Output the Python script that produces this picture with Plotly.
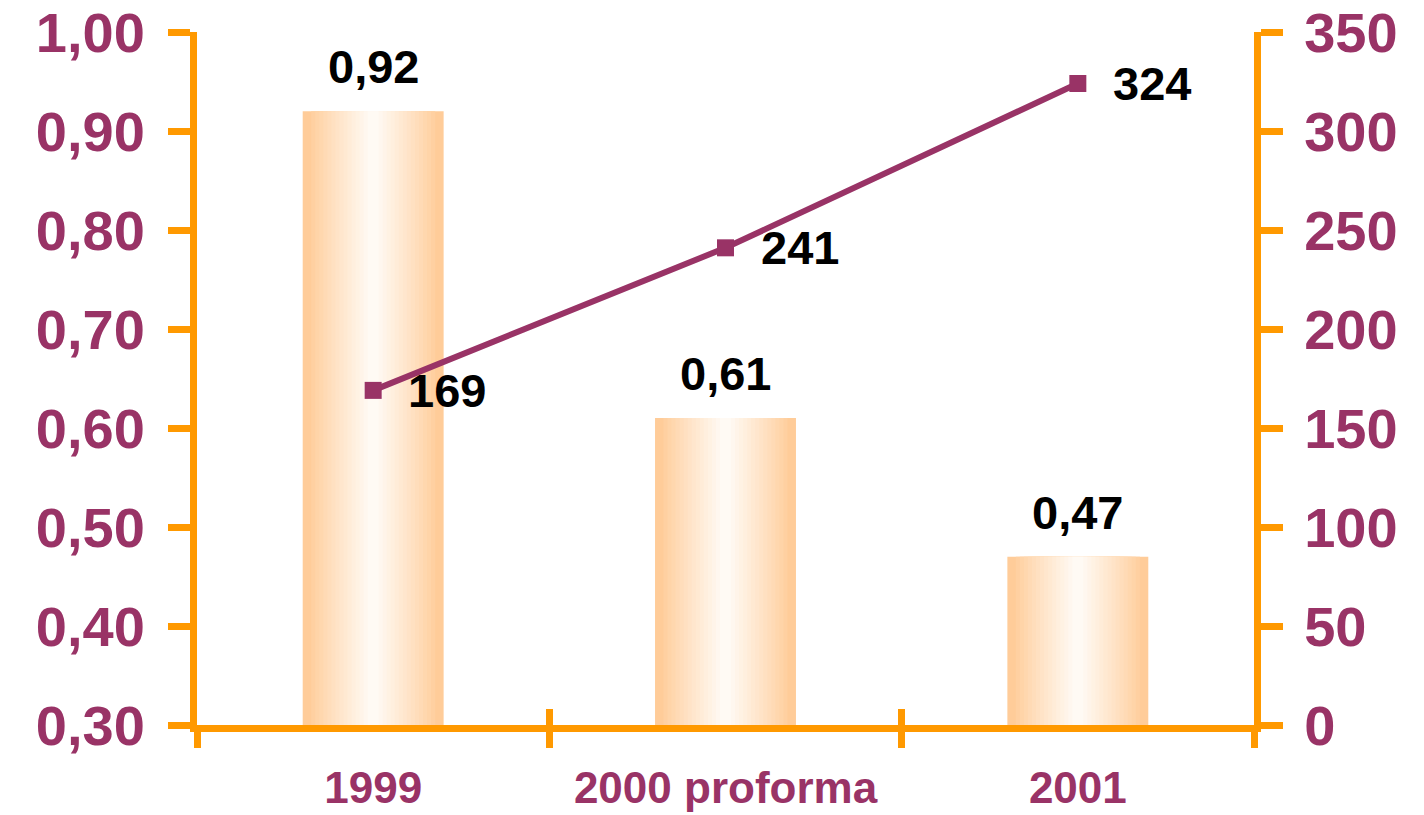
import plotly.graph_objects as go

# Data
categories = ["1999", "2000 proforma", "2001"]
ratio_values = [0.92, 0.61, 0.47]          # bars, left axis
ratio_labels = ["0,92", "0,61", "0,47"]
count_values = [169, 241, 324]             # line, right axis
count_labels = ["169", "241", "324"]

left_ticks = [0.30, 0.40, 0.50, 0.60, 0.70, 0.80, 0.90, 1.00]
right_ticks = [0, 50, 100, 150, 200, 250, 300, 350]

PURPLE = "#993366"
ORANGE = "#FF9900"
FONT = "Liberation Sans, Arial, sans-serif"

fig = go.Figure()

# Bars with a horizontal light-centre gradient: overlaid layers of shrinking width
edge = (255, 204, 153)
centre = (255, 250, 244)
n_layers = 16
full_w = 0.40
for i in range(n_layers):
    t = (i / (n_layers - 1)) ** 0.9
    col = tuple(round(edge[k] + (centre[k] - edge[k]) * t) for k in range(3))
    if i == 0:
        w = full_w
    else:
        w = full_w * (1 - 0.12 - 0.86 * (i - 1) / (n_layers - 1))
    fig.add_trace(go.Bar(
        x=categories, y=[v - 0.30 for v in ratio_values], base=0.30,
        width=w, marker=dict(color="rgb(%d,%d,%d)" % col, line=dict(width=0)),
        hoverinfo="skip", showlegend=False, xaxis="x", yaxis="y",
    ))

# Line on the right axis
fig.add_trace(go.Scatter(
    x=categories, y=count_values, mode="lines+markers",
    line=dict(color=PURPLE, width=6),
    marker=dict(symbol="square", size=17, color=PURPLE),
    showlegend=False, xaxis="x2", yaxis="y2",
))

label_font = dict(family=FONT, size=47, color="black", weight="bold")
annotations = []
for idx, (v, lab) in enumerate(zip(ratio_values, ratio_labels)):
    annotations.append(dict(
        x=idx, y=v, xref="x", yref="y", text=lab, showarrow=False,
        yanchor="bottom", yshift=16, font=label_font,
    ))
for idx, (v, lab) in enumerate(zip(count_values, count_labels)):
    annotations.append(dict(
        x=idx, y=v, xref="x2", yref="y2", text=lab, showarrow=False,
        xanchor="left", xshift=33, yshift=0, font=label_font,
    ))

axis_common = dict(showgrid=False, zeroline=False, tickcolor=ORANGE,
                   tickwidth=7, automargin=False)
tickfont_big = dict(family=FONT, size=56, color=PURPLE, weight="bold")

fig.update_layout(
    width=1424, height=815,
    margin=dict(l=197, r=170, t=32, b=90),
    paper_bgcolor="white", plot_bgcolor="white",
    barmode="overlay",
    separators=",.",
    showlegend=False,
    annotations=annotations,
    xaxis=dict(
        type="category", categoryarray=categories, range=[-0.5, 2.5],
        showline=True, linecolor=ORANGE, linewidth=7,
        ticks="outside", ticklen=16, tickson="boundaries",
        tickfont=dict(family=FONT, size=44, color=PURPLE, weight="bold"),
        ticklabelstandoff=18, ticklabeloverflow="allow", **axis_common,
    ),
    xaxis2=dict(
        type="category", categoryarray=categories, range=[-0.5, 2.5],
        overlaying="x", anchor="y", showline=False,
        ticks="inside", ticklen=16, tickson="boundaries",
        showticklabels=False, **axis_common,
    ),
    yaxis=dict(
        range=[0.30, 1.00], tickvals=left_ticks, tickformat=".2f",
        showline=True, linecolor=ORANGE, linewidth=7,
        ticks="outside", ticklen=22, tickfont=tickfont_big,
        ticklabelstandoff=12, ticklabeloverflow="allow", **axis_common,
    ),
    yaxis3=dict(
        range=[0.30, 1.00], tickvals=left_ticks, overlaying="y", side="left",
        anchor="x", showline=False, ticks="inside", ticklen=22,
        showticklabels=False, **axis_common,
    ),
    yaxis2=dict(
        range=[0, 350], tickvals=right_ticks, overlaying="y", side="right",
        anchor="x2", showline=True, linecolor=ORANGE, linewidth=7,
        ticks="outside", ticklen=22, tickfont=tickfont_big,
        ticklabelstandoff=10, ticklabeloverflow="allow", **axis_common,
    ),
    yaxis4=dict(
        range=[0, 350], tickvals=right_ticks, overlaying="y", side="right",
        anchor="x2", showline=False, ticks="inside", ticklen=22,
        showticklabels=False, **axis_common,
    ),
)

fig.write_html("out.html")
